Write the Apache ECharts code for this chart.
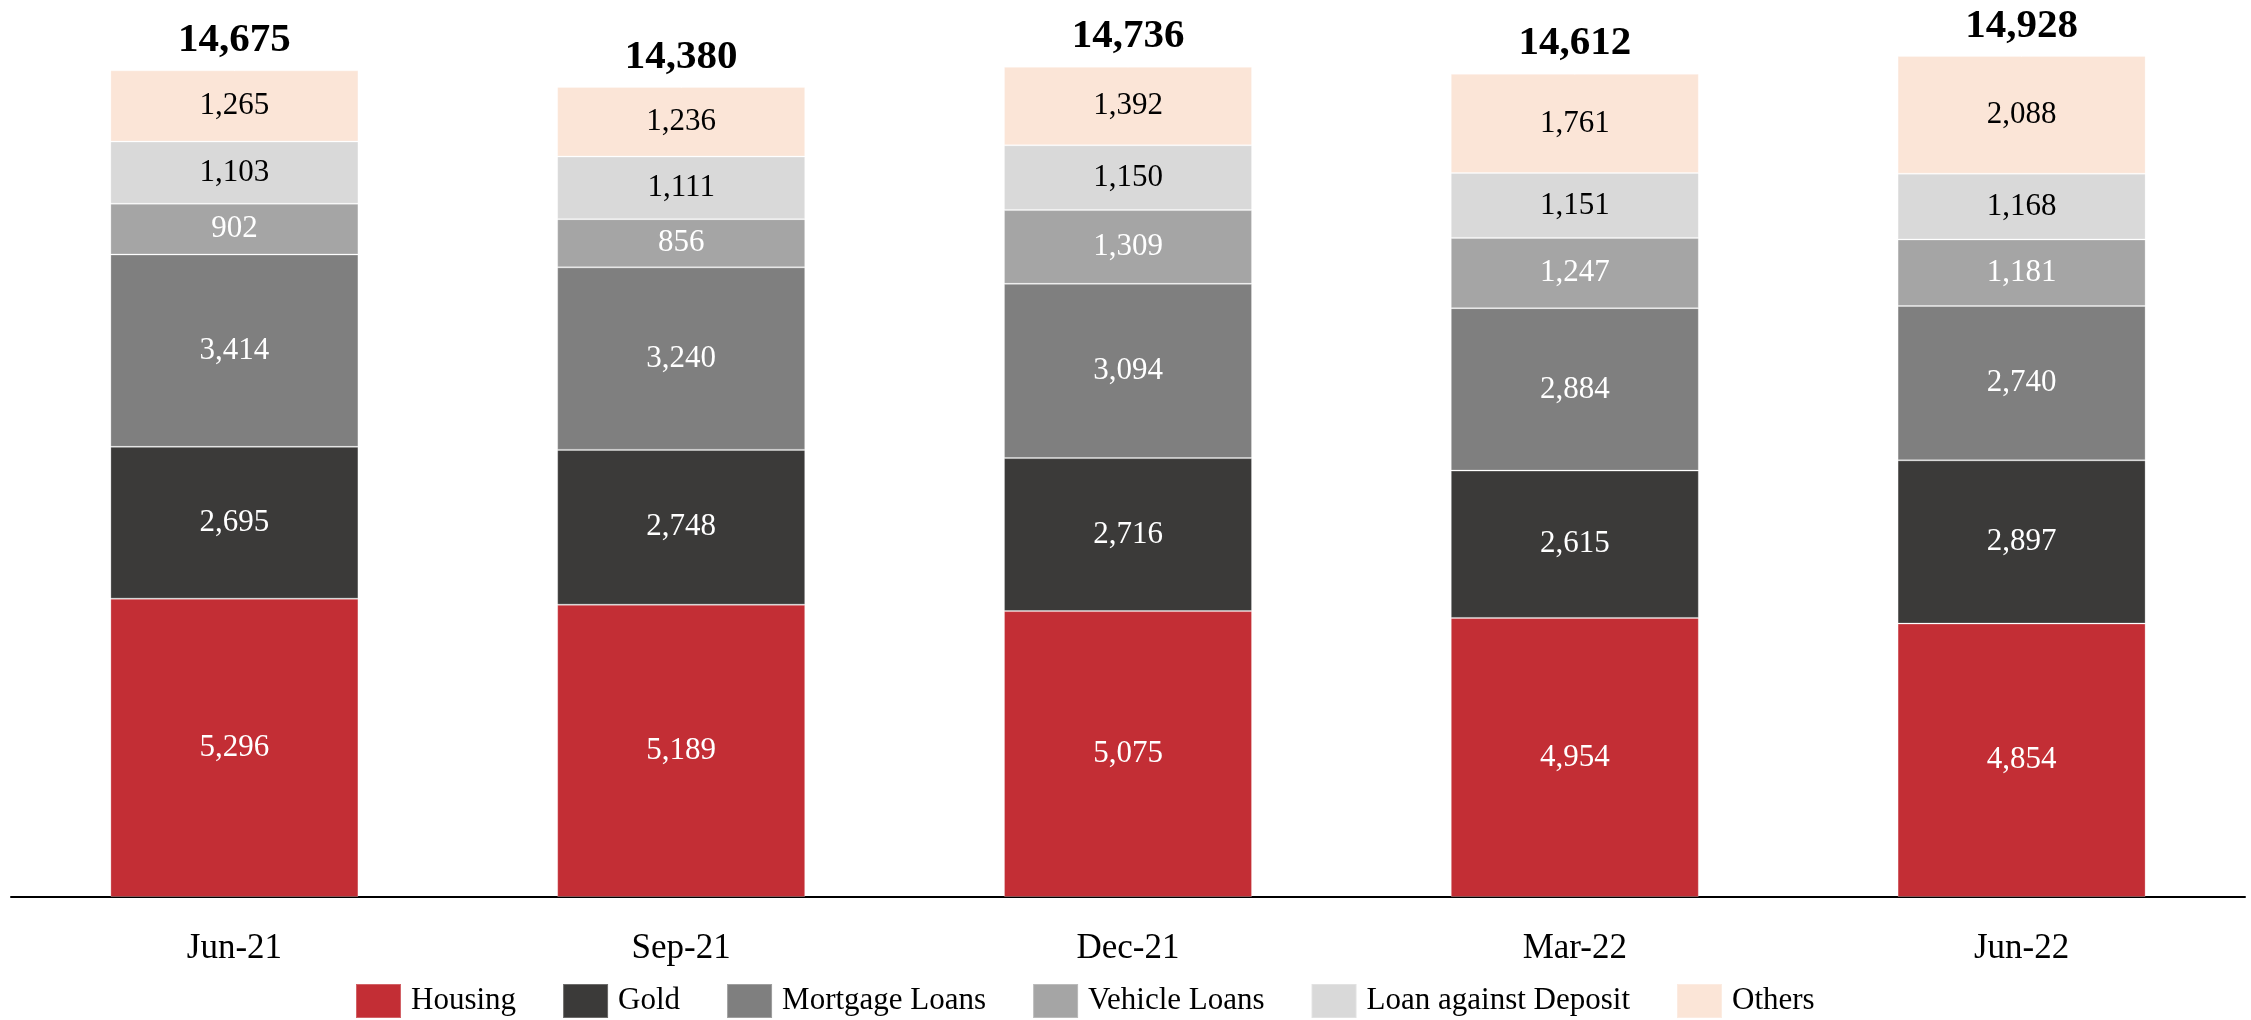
<!DOCTYPE html>
<html>
<head>
<meta charset="utf-8">
<script src="https://cdn.jsdelivr.net/npm/echarts@6/dist/echarts.min.js"></script>
<style>
html, body { margin: 0; padding: 0; background: #fff; }
#dv { width: 2251px; height: 1020px; }
</style>
</head>
<body>
<div id="dv"></div>
<script>
var quarters = ['Jun-21', 'Sep-21', 'Dec-21', 'Mar-22', 'Jun-22']
var housing = [5296, 5189, 5075, 4954, 4854]
var gold = [2695, 2748, 2716, 2615, 2897]
var mortgage = [3414, 3240, 3094, 2884, 2740]
var vehicle = [902, 856, 1309, 1247, 1181]
var loanDeposit = [1103, 1111, 1150, 1151, 1168]
var others = [1265, 1236, 1392, 1761, 2088]
var totals = [14675, 14380, 14736, 14612, 14928]

var serif = '"Liberation Serif", "Times New Roman", serif'

function fmt(v) {
    return Number(v).toLocaleString('en-US')
}

function part(name, data, color, textColor) {
    return {
        name: name,
        type: 'bar',
        stack: 'all',
        barWidth: 248,
        data: data,
        itemStyle: { color: color, borderColor: 'rgba(255,255,255,0.25)', borderWidth: 1 },
        label: {
            show: true,
            position: 'inside',
            color: textColor,
            fontFamily: serif,
            fontSize: 31,
            formatter: function (p) { return fmt(p.value) }
        },
        emphasis: { disabled: true }
    }
}

var chartDom = document.getElementById('dv')
var myChart = echarts.init(chartDom)
var option

option = {
    animation: false,
    grid: { left: 11, right: 6, top: 52, bottom: 123 },
    legend: {
        data: ['Housing', 'Gold', 'Mortgage Loans', 'Vehicle Loans', 'Loan against Deposit', 'Others'],
        left: 355,
        top: 983,
        padding: 0,
        itemWidth: 45,
        itemHeight: 34,
        itemGap: 46,
        icon: 'rect',
        textStyle: { fontFamily: serif, fontSize: 31, color: '#000', padding: [0, 0, 0, 5] }
    },
    xAxis: {
        type: 'category',
        data: quarters,
        axisLine: { lineStyle: { color: '#000', width: 2 } },
        axisTick: { show: false },
        axisLabel: { fontFamily: serif, fontSize: 35, color: '#000', margin: 34 }
    },
    yAxis: {
        type: 'value',
        min: 0,
        max: 15000,
        show: false,
        splitLine: { show: false }
    },
    series: [
        part('Housing', housing, '#C32E35', '#fff'),
        part('Gold', gold, '#3B3A39', '#fff'),
        part('Mortgage Loans', mortgage, '#7F7F7F', '#fff'),
        part('Vehicle Loans', vehicle, '#A5A5A5', '#fff'),
        part('Loan against Deposit', loanDeposit, '#D9D9D9', '#000'),
        part('Others', others, '#FBE5D7', '#000'),
        {
            name: 'Total',
            type: 'scatter',
            data: totals,
            symbolSize: 1,
            itemStyle: { color: '#fff', opacity: 1 },
            label: {
                show: true,
                position: 'top',
                distance: 9,
                color: '#000000',
                opacity: 1,
                textBorderWidth: 0,
                fontFamily: serif,
                fontWeight: 'bold',
                fontSize: 41,
                formatter: function (p) { return fmt(p.value) }
            },
            emphasis: { disabled: true }
        }
    ]
}

option && myChart.setOption(option)
</script>
</body>
</html>
